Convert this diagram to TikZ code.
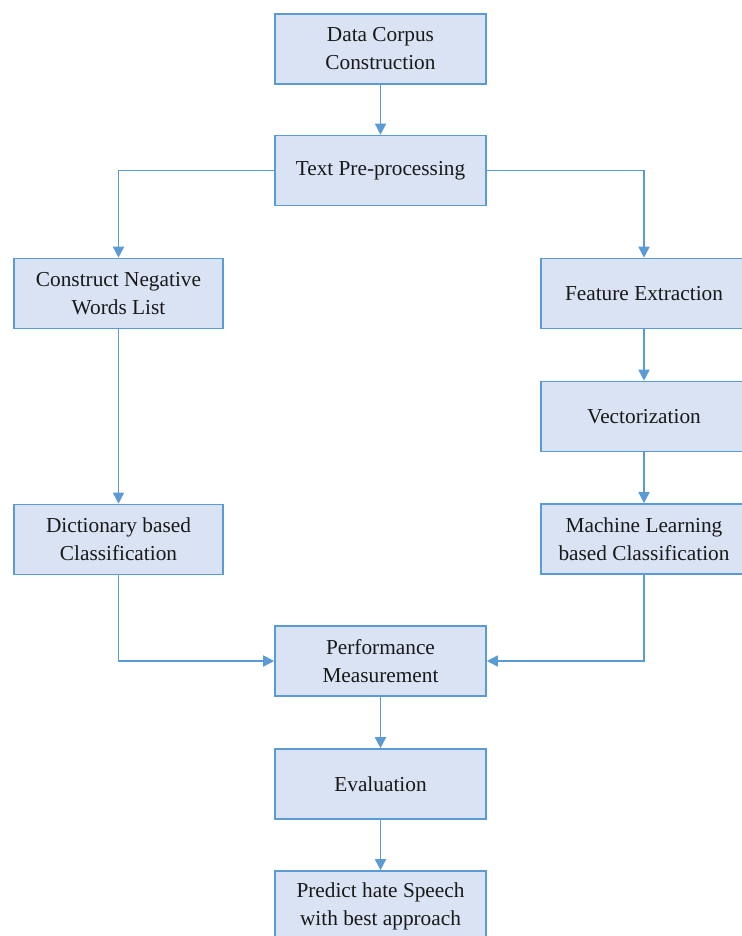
\documentclass[tikz,border=0pt]{standalone}
\usepackage{fontspec}
\setmainfont{Liberation Serif}
\usetikzlibrary{arrows.meta}
\definecolor{boxfill}{HTML}{DAE3F3}
\definecolor{boxline}{HTML}{5B9BD5}
\begin{document}
\begin{tikzpicture}[x=1pt,y=-1pt,
  stepbox/.style={draw=boxline, fill=boxfill, line width=1.6pt, minimum height=70pt,
    inner sep=0pt, align=center, text=black!90, font=\fontsize{21.3}{28}\selectfont},
  conn/.style={draw=boxline, line width=1.6pt, -{Triangle[width=11pt,length=11pt]}}]
\useasboundingbox (0,0) rectangle (741,936);
\node[stepbox, minimum width=211pt] (dc) at (380.5,49) {Data Corpus\\Construction};
\node[stepbox, minimum width=211pt] (tp) at (380.5,170.5) {Text Pre-processing};
\node[stepbox, minimum width=209pt] (cn) at (118.5,293.5) {Construct Negative\\Words List};
\node[stepbox, minimum width=206pt] (fe) at (644,293.5) {Feature Extraction};
\node[stepbox, minimum width=206pt] (ve) at (644,416.5) {Vectorization};
\node[stepbox, minimum width=209pt] (dic) at (118.5,539.5) {Dictionary based\\Classification};
\node[stepbox, minimum width=206pt] (ml) at (644,539) {Machine Learning\\based Classification};
\node[stepbox, minimum width=211pt] (pm) at (380.5,661) {Performance\\Measurement};
\node[stepbox, minimum width=211pt] (ev) at (380.5,784) {Evaluation};
\node[stepbox, minimum width=211pt] (pr) at (380.5,906) {Predict hate Speech\\with best approach};
\draw[conn] (dc) -- (tp);
\draw[conn] (tp.west) -| (cn.north);
\draw[conn] (tp.east) -| (fe.north);
\draw[conn] (cn) -- (dic);
\draw[conn] (fe) -- (ve);
\draw[conn] (ve) -- (ml);
\draw[conn] (dic.south) |- (pm.west);
\draw[conn] (ml.south) |- (pm.east);
\draw[conn] (pm) -- (ev);
\draw[conn] (ev) -- (pr);
\end{tikzpicture}
\end{document}
